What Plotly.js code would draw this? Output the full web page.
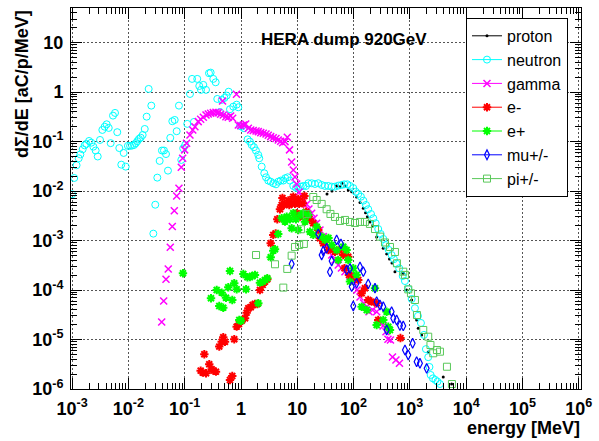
<!DOCTYPE html>
<html><head><meta charset="utf-8">
<script src="https://cdn.plot.ly/plotly-3.0.1.min.js"></script>
<style>html,body{margin:0;padding:0;background:#fff}#plot{width:599px;height:441px}</style>
</head><body><div id="plot"></div>
<script>
// ---- data (energy in MeV, dSigma/dE in aC/p/MeV) ----
const seriesNames = ["proton","neutron","gamma","e-","e+","mu+/-","pi+/-"];

const protonE = [33.7,41.3,49.6,57.3,62.2,70.3,80.4,92.5,113,130,149,163,176,195,218,257,337,387,434,481,543,763,877,1076,1318,1409,1619,2119,3914,5521];
const protonY = [8.75e-3,1.006e-2,1.27e-2,1.23e-2,1.44e-2,1.27e-2,1.05e-2,9.73e-3,7.6e-3,5.89e-3,4.5e-3,3.66e-3,3.04e-3,2.38e-3,2.02e-3,1.18e-3,6.99e-4,5.36e-4,4.25e-4,3.52e-4,2.35e-4,2.18e-4,1.0e-4,6.3e-5,2.48e-5,1.69e-5,1.24e-5,5.6e-6,1.75e-6,1.26e-6];

const neutronE = [1.0e-3,1.09e-3,1.2e-3,1.31e-3,1.4e-3,1.54e-3,1.67e-3,1.79e-3,2.0e-3,2.19e-3,
 2.38e-3,2.62e-3,2.85e-3,3.13e-3,3.44e-3,3.79e-3,4.11e-3,4.47e-3,4.84e-3,5.32e-3,
 5.78e-3,6.34e-3,6.89e-3,7.47e-3,8.24e-3,8.95e-3,9.8e-3,1.07e-2,1.16e-2,1.26e-2,
 1.35e-2,1.44e-2,1.54e-2,1.65e-2,1.79e-2,1.95e-2,2.11e-2,2.29e-2,2.55e-2,2.77e-2,
 3.0e-2,3.26e-2,3.59e-2,3.94e-2,4.28e-2,4.65e-2,5.04e-2,5.54e-2,6.02e-2,6.64e-2,
 7.2e-2,7.9e-2,8.7e-2,9.4e-2,0.102,0.111,0.124,0.135,0.146,0.167,
 0.1815,0.1945,0.214,0.239,0.27,0.289,0.322,0.355,0.379,0.423,
 0.454,0.509,0.557,0.604,0.637,0.729,0.838,0.895,0.96,1.03,
 1.13,1.31,1.44,1.55,1.70,1.84,2.03,2.11,2.33,2.59,
 2.78,3.05,3.37,3.74,4.18,4.59,5.07,5.64,6.11,6.75,
 7.41,8.49,9.47,10.4,11.5,12.8,14.3,15.7,18.0,20.6,
 23.6,27.1,31.0,35.5,40.8,46.7,53.5,61.4,68.3,77.2,
 86.3,98.7,109,121,135,149,166,182,204,224,
 247,274,303,337,376,420,474,521,582,647,
 745,818,936,1076,1231,1391,1573,1778,1928,2119,
 2228,2339,2570,2844,3090,3420];
const neutronY = [8.63e-3,1.84e-2,3.33e-2,4.6e-2,5.5e-2,7.0e-2,8.4e-2,9.0e-2,0.103,9.5e-2,
 7.9e-2,6.6e-2,5.0e-2,0.108,0.172,0.20,0.224,0.189,9.3e-2,0.335,
 0.38,0.155,7.4e-2,3.42e-2,5.9e-2,3.12e-2,8.2e-2,8.2e-2,8.3e-2,8.55e-2,
 9.3e-2,0.102,0.113,0.12,0.136,0.18,0.319,1.16,0.533,1.38e-3,
 5.3e-3,1.87e-2,4.07e-2,6.6e-2,6.6e-2,5.6e-2,2.59e-2,0.119,0.258,0.274,
 0.162,0.533,4.26e-2,7.3e-2,8.55e-2,0.228,0.918,1.85,0.25,1.85,
 1.33,1.11,1.40,1.11,2.41,2.48,1.85,1.58,0.728,0.397,
 0.695,0.763,0.85,1.02,0.451,0.509,0.558,0.494,0.207,0.20,
 0.186,0.111,0.10,8.55e-2,7.7e-2,6.6e-2,5.37e-2,4.6e-2,3.12e-2,2.29e-2,
 1.9e-2,1.63e-2,1.55e-2,1.44e-2,1.37e-2,1.55e-2,1.63e-2,1.63e-2,1.82e-2,1.9e-2,
 1.63e-2,1.27e-2,1.17e-2,1.15e-2,1.23e-2,1.27e-2,1.27e-2,1.44e-2,1.44e-2,1.39e-2,
 1.44e-2,1.33e-2,1.27e-2,1.27e-2,1.23e-2,1.23e-2,1.29e-2,1.33e-2,1.37e-2,1.37e-2,
 1.27e-2,1.15e-2,9.7e-3,8.75e-3,7.7e-3,6.4e-3,5.24e-3,4.3e-3,3.44e-3,2.82e-3,
 2.24e-3,1.71e-3,1.36e-3,1.08e-3,8.1e-4,6.5e-4,5.1e-4,4.2e-4,3.4e-4,2.75e-4,
 1.92e-4,1.52e-4,1.05e-4,6.6e-5,4.3e-5,3.0e-5,2.16e-5,1.24e-5,6.4e-6,4.4e-6,
 2.79e-6,1.92e-6,1.64e-6,1.52e-6,1.41e-6,1.26e-6];

const gammaE = [0.039,0.0423,0.0465,0.051,0.0554,0.0602,0.0653,0.072,0.079,0.0869,
 0.092,0.0999,0.108,0.124,0.139,0.152,0.174,0.192,0.214,0.239,
 0.262,0.289,0.322,0.359,0.394,0.435,0.484,0.47,0.539,0.594,
 0.655,0.711,0.831,0.895,0.987,1.10,1.21,1.35,1.49,1.65,
 1.85,2.03,2.24,2.49,2.78,3.05,3.37,3.74,4.18,4.59,
 5.07,5.5,6.05,6.65,7.28,7.94,8.49,9.1,9.75,10.8,
 12.0,13.1,14.7,16.1,18.0,19.8,22.1,25.3,28.9,32.3,
 35.5,40.8,46.7,53.4,60.9,70.3,86.3,99.6,115,130,
 150,171,188,217,257,294,333,376,408,452,
 491,566,653];
const gammaY = [2.26e-5,6.0e-5,1.65e-4,2.67e-4,7.3e-4,1.93e-3,4.02e-3,7.97e-3,1.14e-2,3.03e-2,
 4.6e-2,6.8e-2,9.3e-2,0.136,0.172,0.20,0.253,0.283,0.311,0.346,
 0.362,0.374,0.385,0.392,0.385,0.357,0.346,0.664,0.319,0.311,
 0.330,0.297,0.906,0.217,0.21,0.217,0.227,0.186,0.172,0.167,
 0.164,0.159,0.152,0.148,0.143,0.134,0.126,0.120,0.115,0.108,
 0.102,9.5e-2,9.98e-2,0.1225,6.8e-2,3.88e-2,2.67e-2,1.93e-2,1.39e-2,9.6e-3,
 7.97e-3,6.6e-3,5.4e-3,4.35e-3,3.56e-3,2.82e-3,2.24e-3,1.64e-3,1.2e-3,8.8e-4,
 6.99e-4,5.1e-4,4.05e-4,3.21e-4,2.79e-4,2.35e-4,1.92e-4,1.46e-4,1.0e-4,7.24e-5,
 5.48e-5,4.55e-5,3.65e-5,3.95e-5,3.65e-5,2.29e-5,1.88e-5,1.44e-5,1.01e-5,9.8e-6,
 4.44e-6,3.86e-6,3.31e-6];

const eminusE = [0.192,0.209,0.223,0.239,0.273,0.301,0.322,0.359,0.411,0.454,
 0.484,0.519,0.637,0.70,0.759,0.838,0.92,1.03,1.18,1.26,
 1.35,1.49,1.61,1.77,1.95,2.17,2.43,2.67,2.93,3.37,
 3.74,4.13,4.41,4.92,5.28,5.45,5.8,6.48,6.91,7.2,
 7.94,8.48,9.09,9.75,10.4,10.8,11.2,12.5,13.4,14.3,
 14.7,16.4,19.2,23.6,25.3,28.9,33.2,35.5,40.8,46.7,
 55.7,65.6,68.9,80.4,82.8,92.5,121,139,159,182,
 209,257,274,680];
const eminusY = [2.35e-6,2.14e-6,5.03e-6,2.08e-6,3.16e-6,2.5e-6,2.35e-6,2.24e-6,7.2e-6,9.0e-6,
 1.11e-5,9.0e-6,1.52e-6,1.83e-6,1.01e-5,1.82e-5,2.06e-5,2.4e-5,2.69e-5,3.49e-5,
 4.28e-5,4.48e-5,4.99e-5,5.23e-5,5.23e-5,1.0e-4,1.27e-4,1.48e-4,1.65e-4,8.8e-4,
 1.3e-3,1.40e-3,2.7e-3,4.29e-3,5.24e-3,7.26e-3,5.24e-3,5.5e-3,6.46e-3,5.24e-3,
 5.68e-3,7.71e-3,5.5e-3,3.56e-3,6.93e-3,5.5e-3,3.04e-3,5.68e-3,7.97e-3,3.84e-3,
 3.04e-3,2.73e-3,2.24e-3,1.64e-3,1.11e-3,8.8e-4,1.03e-3,6.46e-4,6.99e-4,5.96e-4,
 6.46e-4,5.11e-4,2.75e-4,4.72e-4,2.02e-4,1.86e-4,1.6e-4,8.6e-5,1.09e-4,6.3e-5,
 5.82e-5,5.4e-5,2.48e-5,1.07e-5];

const eplusE = [0.0931,0.293,0.370,0.411,0.454,0.484,0.541,0.594,0.637,0.70,
 0.759,0.838,0.932,1.0,1.10,1.23,1.30,1.44,1.57,1.77,
 2.03,2.17,2.43,2.67,2.93,3.37,3.74,4.02,4.59,5.28,
 6.05,6.48,7.41,7.94,8.48,9.47,10.4,11.5,12.8,13.7,
 15.7,16.8,19.2,22.1,27.1,31.0,35.8,40.8,50.0,53.4,
 65.6,75.3,80.4,86.3,98.7,113,139,171,240,257,
 337,387,413,443];
const eplusY = [2.18e-4,6.82e-5,1.0e-4,4.76e-5,8.85e-5,4.4e-5,7.0e-5,1.14e-4,2.43e-4,6.3e-5,
 1.37e-4,1.04e-4,2.48e-5,2.4e-5,2.11e-4,1.04e-4,1.81e-4,1.84e-4,1.92e-4,2.02e-4,
 5.4e-5,1.41e-4,1.48e-4,1.6e-4,1.73e-4,4.6e-4,6.25e-4,6.67e-4,1.36e-3,2.82e-3,
 2.41e-3,3.04e-3,2.69e-3,1.77e-3,3.56e-3,2.69e-3,1.64e-3,3.29e-3,3.56e-3,2.41e-3,
 3.29e-3,1.51e-3,1.3e-3,1.91e-3,1.2e-3,1.03e-3,1.13e-3,8.15e-4,6.46e-4,4.05e-4,
 7.53e-4,6.46e-4,4.05e-4,1.48e-4,2.75e-4,2.02e-4,4.61e-5,3.95e-5,1.09e-4,1.97e-5,
 2.48e-5,3.65e-5,1.82e-5,1.56e-5];

const muE = [7.94,23.6,27.1,28.9,33.2,38.1,40.8,50.0,59.7,75.3,
 86.3,92.5,98.7,113,130,149,182,240,257,294,
 337,387,474,507,582,666,763,818,936,1120,
 1318,1510,1986];
const muY = [3.36e-4,1.36e-3,5.11e-4,6.16e-4,6.99e-4,2.32e-4,3.87e-4,1.03e-3,8.54e-4,2.54e-4,
 2.75e-4,1.17e-4,4.76e-5,1.37e-4,2.93e-4,2.35e-4,1.33e-4,1.09e-4,5.82e-5,4.99e-5,
 4.61e-5,1.56e-5,3.65e-5,2.69e-5,2.48e-5,1.92e-5,1.88e-5,6.14e-6,4.87e-6,8.4e-6,
 3.56e-6,3.31e-6,2.62e-6];

const piE = [1.85,4.02,5.64,6.64,7.94,9.1,10.8,11.6,13.1,14.7,
 19.2,22.1,27.1,33.2,38.8,46.7,57.3,70.3,86.3,106,
 130,159,195,240,294,361,443,543,589,763,
 818,936,1045,1231,1336,1729,2119,2320,2600,3027,
 3420,4556,5585];
const piY = [5.11e-4,3.32e-4,1.12e-4,2.67e-4,4.95e-4,7.42e-4,8.15e-4,1.69e-3,8.54e-4,3.45e-3,
 7.6e-3,6.6e-3,5.5e-3,4.29e-3,3.45e-3,3.0e-3,2.49e-3,2.61e-3,2.38e-3,2.27e-3,
 2.38e-3,2.38e-3,2.17e-3,1.71e-3,1.2e-3,9.15e-4,7.42e-4,5.88e-4,3.47e-4,2.35e-4,
 2.02e-4,1.03e-4,8.6e-5,6.3e-5,3.13e-5,1.56e-5,1.14e-5,7.76e-6,5.27e-6,6.14e-6,
 5.68e-6,2.82e-6,1.26e-6];

const xTickVals = [1e-3,1e-2,1e-1,1,10,1e2,1e3,1e4,1e5,1e6];
const xTickText = ["10<sup>-3</sup>","10<sup>-2</sup>","10<sup>-1</sup>","1","10","10<sup>2</sup>","10<sup>3</sup>","10<sup>4</sup>","10<sup>5</sup>","10<sup>6</sup>"];
const yTickVals = [1e-6,1e-5,1e-4,1e-3,1e-2,1e-1,1,10];
const yTickText = ["10<sup>-6</sup>","10<sup>-5</sup>","10<sup>-4</sup>","10<sup>-3</sup>","10<sup>-2</sup>","10<sup>-1</sup>","1","10"];

// ---- styling ----
const FONT = "Liberation Sans, Arial, Helvetica, sans-serif";
const styles = [
  {sym:"circle", size:3, color:"#000000", lw:0},
  {sym:"circle-open", size:7, color:"#00ffff", lw:1},
  {sym:"x-thin", size:7, color:"#ff00ff", lw:1.5},
  {sym:"asterisk", size:7, color:"#ff0000", lw:2},
  {sym:"asterisk", size:7, color:"#00ff00", lw:2},
  {sym:"diamond-tall-open", size:7, color:"#0000ff", lw:1.2},
  {sym:"square-open", size:7, color:"#59c859", lw:1}
];
const dataX = [protonE, neutronE, gammaE, eminusE, eplusE, muE, piE];
const dataY = [protonY, neutronY, gammaY, eminusY, eplusY, muY, piY];

const traces = [];
for (let i = 0; i < seriesNames.length; i++) {
  const s = styles[i];
  traces.push({
    type:"scatter", mode:"markers", x:dataX[i], y:dataY[i], showlegend:false, hoverinfo:"skip",
    marker:{symbol:s.sym, size:s.size, color:s.color, line:{color:s.color, width:s.lw}}
  });
}
for (let i = 0; i < seriesNames.length; i++) {
  const s = styles[i];
  traces.push({
    type:"scatter", mode:"lines+markers", x:[null], y:[null], name:seriesNames[i], showlegend:true,
    line:{color:s.color, width:1},
    marker:{symbol:s.sym, size:s.size, color:s.color, line:{color:s.color, width:s.lw}}
  });
}

function minorVals(lo, hi) {
  const v = [];
  for (let e = lo; e < hi; e++) for (let k = 2; k <= 9; k++) v.push(k * Math.pow(10, e));
  return v;
}

const axisCommon = {
  type:"log", tickmode:"array", ticks:"inside", ticklen:11, tickwidth:1, tickcolor:"#000",
  showline:true, linecolor:"#000", linewidth:1, mirror:"ticks",
  showgrid:true, gridcolor:"#555", gridwidth:1, griddash:"2px,2px",
  zeroline:false, fixedrange:true, ticklabelstandoff:3,
  tickfont:{family:FONT, size:18, color:"#000", weight:"bold"}
};

const layout = {
  width:599, height:441,
  margin:{l:71, r:18, t:8, b:52, pad:0},
  paper_bgcolor:"#fff", plot_bgcolor:"#fff",
  showlegend:true,
  xaxis:Object.assign({}, axisCommon, {
    range:[-3.02, 6.04], tickvals:xTickVals, ticktext:xTickText,
    minor:{tickmode:"array", tickvals:minorVals(-3,6), ticks:"inside", ticklen:6, tickcolor:"#000", showgrid:false}
  }),
  yaxis:Object.assign({}, axisCommon, {
    range:[-6, 1.70], tickvals:yTickVals, ticktext:yTickText,
    minor:{tickmode:"array", tickvals:minorVals(-6,2), ticks:"inside", ticklen:6, tickcolor:"#000", showgrid:false}
  }),
  legend:{x:0.9745, xanchor:"right", y:0.974, yanchor:"top", bgcolor:"#fff", bordercolor:"#000", borderwidth:1,
    font:{family:FONT, size:16, color:"#000"}, itemwidth:30, tracegroupgap:0, traceorder:"normal"},
  annotations:[
    {text:"HERA dump 920GeV", xref:"paper", yref:"paper", x:0.535, y:0.9186, xanchor:"center", yanchor:"middle",
     showarrow:false, font:{family:FONT, size:17, color:"#000", weight:"bold"}},
    {text:"dΣ/dE [aC/p/MeV]", xref:"paper", yref:"paper", x:-0.096, y:1.0, xanchor:"center", yanchor:"top",
     textangle:-90, showarrow:false, font:{family:FONT, size:18, color:"#000", weight:"bold"}},
    {text:"energy [MeV]", xref:"paper", yref:"paper", x:1.002, y:-0.1024, xanchor:"right", yanchor:"middle",
     showarrow:false, font:{family:FONT, size:18, color:"#000", weight:"bold"}}
  ]
};

Plotly.newPlot("plot", traces, layout, {displayModeBar:false, staticPlot:true});
</script>
</body></html>
